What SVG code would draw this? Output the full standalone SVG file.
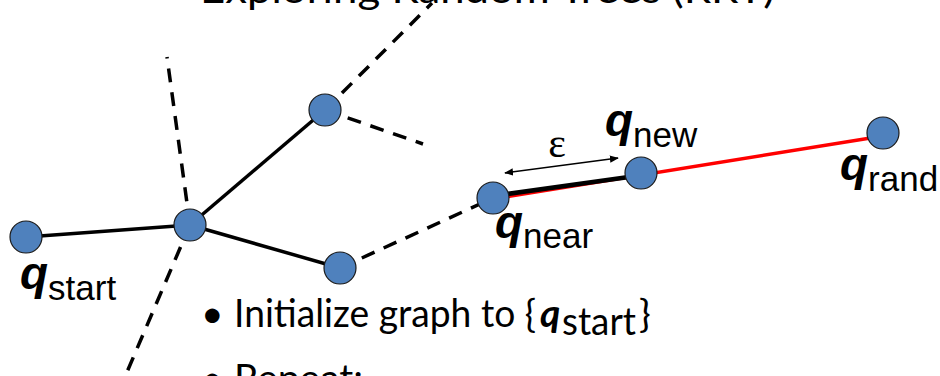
<svg xmlns="http://www.w3.org/2000/svg" width="940" height="376" viewBox="0 0 940 376">
<defs>
<style>
.node{fill:#4F81BD;stroke:#1a1a1a;stroke-width:1.2}
.solid{stroke:#000;stroke-width:3.5;fill:none}
.dash{stroke:#000;stroke-width:3.5;fill:none;stroke-dasharray:14 10}
.red{stroke:#FF0000;stroke-width:3.5;fill:none}
.q{font-family:"Liberation Sans",Arial,sans-serif;font-weight:bold;font-style:italic;font-size:46px;fill:#000}
.sub{font-family:"Liberation Sans",Arial,sans-serif;font-weight:normal;font-style:normal;font-size:35px}
.cal{font-family:Lato,"Open Sans",sans-serif;font-size:39px;fill:#000}
</style>
<marker id="ah" viewBox="0 0 10 10" refX="9" refY="5" markerWidth="9" markerHeight="9" markerUnits="userSpaceOnUse" orient="auto-start-reverse"><path d="M0,1 L10,5 L0,9 z" fill="#000"/></marker>
</defs>
<rect width="940" height="376" fill="#fff"/>
<text class="cal" x="200" y="3" font-size="40" textLength="575" lengthAdjust="spacingAndGlyphs">Exploring Random Trees (RRT)</text>

<g id="connectors">
<line class="solid" x1="26" y1="237" x2="190" y2="225"/>
<line class="solid" x1="190" y1="225" x2="325" y2="110"/>
<line class="solid" x1="190" y1="225" x2="340" y2="268"/>
<line class="dash" x1="190" y1="225" x2="167" y2="57"/>
<line class="dash" x1="190" y1="225" x2="115" y2="400"/>
<line class="dash" x1="325" y1="110" x2="432" y2="3"/>
<line class="dash" x1="325" y1="110" x2="423" y2="144"/>
<line class="dash" x1="340" y1="268" x2="493" y2="198"/>
<line class="red" x1="493" y1="199" x2="883" y2="136"/>
<line stroke="#000" stroke-width="4.5" x1="500" y1="195" x2="636" y2="176"/>
<line stroke="#000" stroke-width="1.5" x1="505" y1="173" x2="618" y2="158" marker-start="url(#ah)" marker-end="url(#ah)"/>
<text x="557" y="157" text-anchor="middle" font-family="Liberation Serif,serif" font-size="42">ε</text>
</g>

<g id="qstart"><circle class="node" cx="26" cy="237" r="16"/><text class="q" x="20" y="289">q<tspan class="sub" dy="11">start</tspan></text></g>
<g id="hub"><circle class="node" cx="190" cy="225" r="16"/></g>
<g id="upper"><circle class="node" cx="325" cy="110" r="16"/></g>
<g id="lower"><circle class="node" cx="340" cy="268" r="16"/></g>
<g id="qnear"><circle class="node" cx="493" cy="198" r="16"/><text class="q" x="495" y="238">q<tspan class="sub" dy="10">near</tspan></text></g>
<g id="qnew"><circle class="node" cx="641" cy="173" r="16"/><text class="q" x="605" y="136">q<tspan class="sub" dy="11">new</tspan></text></g>
<g id="qrand"><circle class="node" cx="883" cy="133" r="16"/><text class="q" x="840" y="180">q<tspan class="sub" dy="11">rand</tspan></text></g>

<g id="bullets">
<text class="cal" x="201" y="327" font-size="34">•</text>
<text class="cal" x="234" y="327" textLength="302" lengthAdjust="spacingAndGlyphs">Initialize graph to {</text>
<text class="cal" x="540" y="327" font-size="37" font-weight="bold" font-style="italic">q</text>
<text class="cal" x="562" y="335" font-size="26" textLength="74" lengthAdjust="spacingAndGlyphs">start</text>
<text class="cal" x="639" y="327">}</text>
<text class="cal" x="201" y="392" font-size="34">•</text>
<text class="cal" x="234" y="392">Repeat:</text>
</g>
</svg>
